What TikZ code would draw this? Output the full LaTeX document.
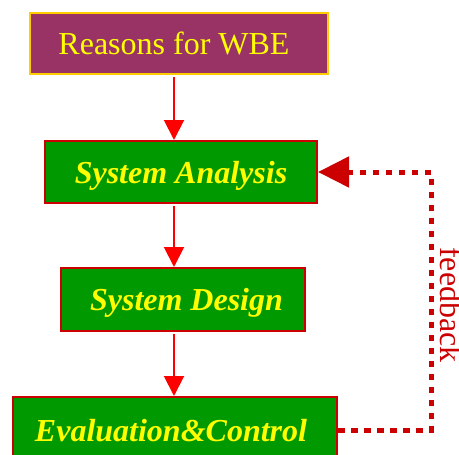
\documentclass[tikz,border=0pt]{standalone}
\usepackage{fontspec}
\setmainfont{Liberation Serif}
\usetikzlibrary{arrows.meta}
\definecolor{boxpurple}{HTML}{993366}
\definecolor{boxgold}{HTML}{FFCC00}
\definecolor{boxgreen}{HTML}{009900}
\definecolor{boxred}{HTML}{CC0000}
\definecolor{txtyellow}{HTML}{FFFF00}
\begin{document}
\begin{tikzpicture}[x=1pt,y=-1pt,
  basebox/.style={draw, line width=2pt, inner sep=0pt, text=txtyellow,
    font=\fontsize{32}{36}\selectfont, text height=22pt, text depth=0pt, anchor=center},
  topbox/.style={basebox, fill=boxpurple, draw=boxgold},
  greenbox/.style={basebox, fill=boxgreen, draw=boxred, font=\fontsize{32}{36}\selectfont\bfseries\itshape},
  flow/.style={draw=red, line width=2pt, -{Triangle[width=20pt,length=20pt]}, shorten <=2pt},
  fb/.style={draw=boxred, line width=5pt, dash pattern=on 6.5pt off 6.5pt, -{Triangle[width=30pt,length=31pt]}},
  fblabel/.style={text=boxred, font=\fontsize{32}{36}\selectfont, rotate=-90, inner sep=0pt, anchor=south}]
\useasboundingbox (0,0) rectangle (459,455);
\clip (0,0) rectangle (459,455);
\node[topbox, minimum width=298pt, minimum height=61pt] (reasons) at (179,43.5) {\hspace*{-10pt}Reasons for WBE};
\node[greenbox, minimum width=272pt, minimum height=62pt] (analysis) at (181,172) {System Analysis};
\node[greenbox, minimum width=244pt, minimum height=63pt] (design) at (183,299.5) {\hspace*{7pt}System Design};
\node[greenbox, minimum width=324pt, minimum height=66pt] (evaluation) at (175,430) {\hspace*{-8pt}Evaluation\&Control};
\coordinate (ax) at (174,0);
\coordinate (fbx) at (431,0);
\draw[flow] (reasons.south -| ax) -- (analysis.north -| ax);
\draw[flow] (analysis.south -| ax) -- (design.north -| ax);
\draw[flow] (design.south -| ax) -- (evaluation.north -| ax);
\draw[fb] (evaluation.east) -| (fbx |- analysis.east) -- (analysis.east);
\node[fblabel] (feedback) at (440,305) {feedback};
\end{tikzpicture}
\end{document}
